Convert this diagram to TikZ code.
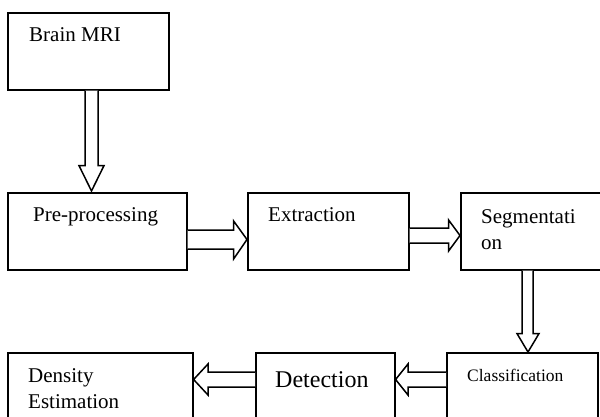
\documentclass[tikz,border=0pt]{standalone}
\usepackage{fontspec}
\setmainfont{Liberation Serif}
\usetikzlibrary{calc}
\begin{document}
\begin{tikzpicture}[x=1pt,y=-1pt,
  box/.style={draw=black,line width=1.6pt,rectangle,inner sep=0pt},
  harrow/.style={draw=black,line width=1.5pt,fill=white,line join=miter},
  lbl/.style={anchor=base west,inner sep=0pt,font=\fontsize{21}{26}\selectfont,align=left}]
\clip (0,0) rectangle (600,417);
\fill[white] (0,0) rectangle (600,417);
% boxes
\node[box,minimum width=161pt,minimum height=77pt,anchor=north west] (bmri) at (7,12) {};
\node[box,minimum width=179pt,minimum height=77pt,anchor=north west] (pre) at (7,192) {};
\node[box,minimum width=161pt,minimum height=77pt,anchor=north west] (ext) at (247,192) {};
\node[box,minimum width=150pt,minimum height=77pt,anchor=north west] (seg) at (460,192) {};
\node[box,minimum width=185pt,minimum height=80pt,anchor=north west] (dens) at (7,352) {};
\node[box,minimum width=139pt,minimum height=80pt,anchor=north west] (det) at (255,352) {};
\node[box,minimum width=151pt,minimum height=80pt,anchor=north west] (cls) at (446,352) {};
% texts
\node[lbl] (tbmri) at (29,42) {Brain MRI};
\node[lbl] (tpre) at (33,222) {Pre-processing};
\node[lbl] (text) at (268,222) {Extraction};
\node[lbl] (tseg) at (481,249) {Segmentati\\on};
\node[lbl] (tdens) at (28,408) {Density\\Estimation};
\node[lbl,font=\fontsize{24}{28}\selectfont] (tdet) at (275,387) {Detection};
\node[lbl,font=\fontsize{17.5}{22}\selectfont] (tcls) at (467,381) {Classification};
% hollow arrows
\draw[harrow] ($(bmri.south west)+(78,0)$) -- ++(0,75) -- ++(-6,0) -- ($(pre.north west)+(84.5,-1)$)
  -- ($(bmri.south west)+(97,75)$) -- ++(-6,0) -- ++(0,-75);
\draw[harrow] ($(pre.north east)+(0,38)$) -- ++(46,0) -- ++(0,-9) -- ($(ext.north west)+(0,47.5)$)
  -- ($(pre.north east)+(46,67)$) -- ++(0,-10) -- ++(-46,0);
\draw[harrow] ($(ext.north east)+(0,36)$) -- ++(39,0) -- ++(0,-8) -- ($(seg.north west)+(0,43.5)$)
  -- ($(ext.north east)+(39,59)$) -- ++(0,-8) -- ++(-39,0);
\draw[harrow] ($(seg.south west)+(62,0)$) -- ++(0,63) -- ++(-5,0) -- ($(cls.north west)+(82,0)$)
  -- ($(seg.south west)+(79,63)$) -- ++(-6,0) -- ++(0,-63);
\draw[harrow] ($(cls.north west)+(0,20)$) -- ++(-38,0) -- ++(0,-8) -- ($(det.north east)+(0,27.5)$)
  -- ($(cls.north west)+(-38,43)$) -- ++(0,-8) -- ++(38,0);
\draw[harrow] ($(det.north west)+(0,20)$) -- ++(-47,0) -- ++(0,-8) -- ($(dens.north east)+(0,27.5)$)
  -- ($(det.north west)+(-47,43)$) -- ++(0,-8) -- ++(47,0);
\end{tikzpicture}
\end{document}
